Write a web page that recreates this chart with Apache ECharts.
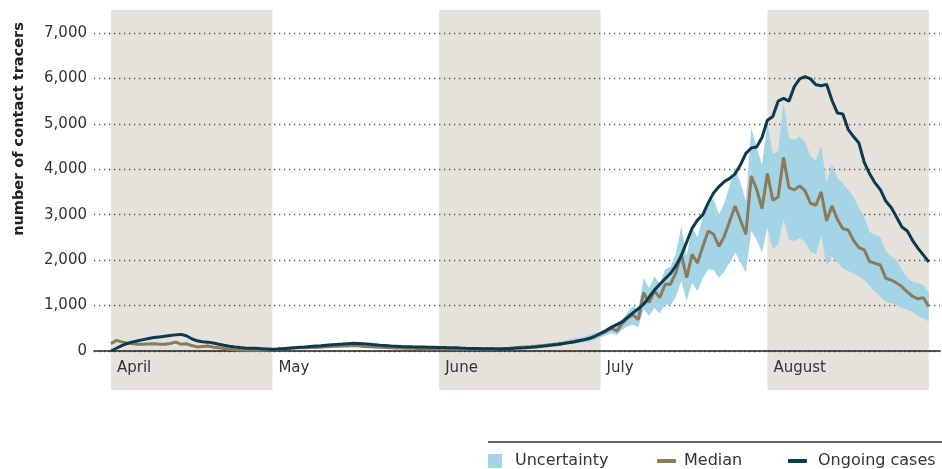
<!DOCTYPE html>
<html><head><meta charset="utf-8">
<script src="https://cdn.jsdelivr.net/npm/echarts@6/dist/echarts.min.js"></script>
<style>html,body{margin:0;padding:0;background:#fff}#chart{width:942px;height:469px}</style>
</head><body><div id="chart"></div>
<script>
// Day index 0 = 1 April ... 152 = 31 August
const monthNames = ['April', 'May', 'June', 'July', 'August'];
const monthStartDays = [0, 30, 61, 91, 122];
const shadedMonths = [[0, 30], [61, 91], [122, 152]];

const ongoing = [
  0, 60, 120, 165, 200, 225, 250, 275, 295, 310, 325,
  340, 355, 365, 335, 270, 225, 205, 195, 175, 150,
  125, 105, 88, 75, 68, 62, 58, 52, 45, 38,
  42, 52, 62, 72, 81, 90, 100, 110, 118, 128,
  138, 145, 152, 162, 169, 165, 157, 148, 138, 128,
  120, 112, 106, 100, 96, 91, 88, 86, 83, 81,
  79, 76, 73, 69, 64, 60, 57, 54, 51, 49,
  47, 45, 48, 52, 58, 65, 72, 80, 90, 102,
  115, 130, 145, 162, 180, 200, 225, 250, 280, 330,
  390, 450, 520, 580, 640, 740, 840, 930, 1030, 1180,
  1340, 1470, 1590, 1710, 1880, 2100, 2400, 2700, 2880, 3000,
  3260, 3480, 3620, 3730, 3800, 3900, 4100, 4350, 4470, 4490,
  4700, 5080, 5160, 5500, 5560, 5500, 5820, 5990, 6040, 5990,
  5860, 5840, 5870, 5520, 5240, 5220, 4880, 4720, 4580, 4150,
  3900, 3700, 3550, 3300, 3160, 2950, 2730, 2640, 2430, 2260,
  2110, 1960
];
const median = [
  160, 235, 200, 170, 160, 150, 148, 155, 160, 150, 150,
  165, 195, 150, 160, 120, 90, 100, 110, 85, 70,
  55, 40, 30, 22, 18, 15, 15, 18, 22, 28,
  40, 50, 60, 65, 70, 72, 75, 78, 85, 92,
  100, 105, 108, 110, 120, 115, 100, 95, 90, 80,
  75, 72, 68, 65, 60, 58, 55, 52, 50, 50,
  50, 50, 48, 46, 45, 44, 42, 42, 42, 42,
  44, 48, 55, 62, 70, 80, 88, 95, 105, 115,
  128, 140, 155, 172, 190, 210, 230, 245, 280, 320,
  370, 430, 500, 440, 600, 720, 800, 690, 1285, 1065,
  1322, 1175, 1468, 1470, 1725, 2129, 1615, 2130, 1935, 2300,
  2640, 2570, 2300, 2530, 2860, 3190, 2880, 2570, 3850, 3560,
  3135, 3906, 3319, 3392, 4258, 3598, 3546, 3634, 3524, 3252,
  3208, 3502, 2863, 3194, 2900, 2694, 2665, 2437, 2276, 2225,
  1968, 1931, 1894, 1601, 1564, 1500, 1417, 1300, 1200, 1150,
  1170, 980
];
const upper = [
  185, 260, 225, 195, 185, 175, 173, 180, 185, 175, 175,
  190, 220, 175, 185, 145, 115, 125, 135, 110, 95,
  78, 62, 50, 40, 35, 30, 30, 33, 37, 43,
  55, 65, 75, 80, 85, 87, 90, 93, 100, 107,
  115, 120, 123, 125, 135, 130, 115, 110, 105, 95,
  90, 87, 83, 80, 75, 73, 70, 67, 65, 65,
  70, 70, 68, 66, 65, 64, 62, 62, 62, 63,
  66, 72, 80, 88, 97, 108, 118, 128, 140, 152,
  168, 184, 202, 222, 245, 270, 295, 315, 355, 400,
  420, 490, 580, 610, 700, 850, 990, 900, 1615, 1380,
  1640, 1480, 1800, 1850, 2150, 2740, 2100, 2720, 2500, 2950,
  3300, 3340, 3010, 3250, 3650, 4040, 3700, 3300, 4900, 4500,
  4100, 5030, 4330, 4400, 5470, 4680, 4650, 4720, 4600, 4300,
  4185, 4530, 3693, 4111, 3800, 3690, 3550, 3400, 3150, 2950,
  2620, 2560, 2510, 2200, 2080, 2000, 1790, 1600, 1527, 1500,
  1450, 1270
];
const lower = [
  135, 210, 175, 145, 135, 125, 123, 130, 135, 125, 125,
  140, 170, 125, 135, 95, 65, 75, 85, 60, 47,
  35, 22, 15, 8, 6, 5, 5, 7, 10, 15,
  27, 36, 46, 51, 56, 58, 61, 64, 71, 78,
  86, 91, 94, 96, 106, 101, 86, 81, 76, 66,
  61, 58, 54, 51, 46, 44, 41, 38, 36, 36,
  35, 35, 33, 32, 31, 30, 29, 29, 29, 29,
  31, 34, 40, 45, 52, 60, 66, 72, 80, 88,
  98, 108, 120, 133, 148, 163, 178, 190, 215, 245,
  300, 340, 390, 350, 460, 540, 580, 520, 925, 770,
  950, 820, 1030, 1000, 1200, 1540, 1100, 1500, 1320, 1600,
  1800, 1780, 1615, 1750, 1950, 2170, 1950, 1725, 2640, 2450,
  2170, 2720, 2240, 2350, 2900, 2460, 2420, 2480, 2400, 2180,
  2130, 2530, 1870, 2092, 1950, 1820, 1760, 1711, 1640, 1564,
  1430, 1307, 1200, 1080, 1050, 1013, 950, 900, 866, 770,
  720, 646
];

const pairs = arr => arr.map((v, i) => [i, v]);
const bandData = upper.map((u, i) => [i, lower[i], u]);

const FONT = 'DejaVu Sans';
const C_BAND = '#a3d5e7';
const C_MED = '#8c7a5b';
const C_ONG = '#0d3a4e';
const C_MONTH = '#e5e1db';
const X_MIN = -3.16, X_MAX = 154.08;

const chart = echarts.init(document.getElementById('chart'), null, {renderer: 'canvas'});
chart.setOption({
  animation: false,
  backgroundColor: '#ffffff',
  grid: [
    {left: 94, right: 2, top: 33, bottom: 118},
    {left: 94, right: 2, top: 10, bottom: 79}
  ],
  xAxis: [
    {
      gridIndex: 0, type: 'value', min: X_MIN, max: X_MAX,
      axisLine: {show: true, onZero: true, lineStyle: {color: '#222', width: 1.5}},
      axisTick: {show: false},
      splitLine: {show: false},
      axisLabel: {
        customValues: monthStartDays,
        formatter: v => monthNames[monthStartDays.indexOf(Math.round(v))] || '',
        align: 'left', padding: [0, 0, 0, 6], margin: 10,
        color: '#333', fontFamily: FONT, fontSize: 15
      }
    },
    {gridIndex: 1, type: 'value', min: X_MIN, max: X_MAX, show: false}
  ],
  yAxis: [
    {
      gridIndex: 0, type: 'value', min: 0, max: 7000, interval: 1000,
      axisLine: {show: false}, axisTick: {show: false},
      axisLabel: {margin: 7, color: '#333', fontFamily: FONT, fontSize: 15,
        formatter: v => v.toLocaleString('en-US')},
      splitLine: {show: true, lineStyle: {color: '#555', width: 1.3, type: [1.3, 3.7]}}
    },
    {gridIndex: 1, type: 'value', min: 0, max: 1, show: false}
  ],
  legend: [
    {data: [{name: 'Uncertainty', icon: 'rect', itemStyle: {color: C_BAND, borderWidth: 0}}],
      left: 488, top: 453, padding: 0, itemWidth: 14, itemHeight: 14, selectedMode: false,
      textStyle: {fontFamily: FONT, fontSize: 16, color: '#333', padding: [0, 0, 0, 8]}},
    {data: [{name: 'Median', icon: 'roundRect', itemStyle: {color: C_MED, borderWidth: 0}}],
      left: 657, top: 453, padding: 0, itemWidth: 19, itemHeight: 4, selectedMode: false,
      textStyle: {fontFamily: FONT, fontSize: 16, color: '#333', padding: [0, 0, 0, 3]}},
    {data: [{name: 'Ongoing cases', icon: 'roundRect', itemStyle: {color: C_ONG, borderWidth: 0}}],
      left: 788, top: 453, padding: 0, itemWidth: 19, itemHeight: 4, selectedMode: false,
      textStyle: {fontFamily: FONT, fontSize: 16, color: '#333', padding: [0, 0, 0, 6]}}
  ],
  graphic: [
    {type: 'line', shape: {x1: 488, y1: 442, x2: 942, y2: 442}, style: {stroke: '#333', lineWidth: 1.5}},
    {type: 'text', x: 19, y: 129, rotation: Math.PI / 2,
      style: {text: 'number of contact tracers', font: 'bold 14.5px "DejaVu Sans"', fill: '#222',
        align: 'center', verticalAlign: 'middle'}}
  ],
  series: [
    {
      type: 'custom', name: 'months', xAxisIndex: 1, yAxisIndex: 1, z: -1, silent: true,
      data: shadedMonths,
      renderItem: (params, api) => {
        const a = api.coord([api.value(0), 1]);
        const b = api.coord([api.value(1), 0]);
        return {type: 'rect', shape: {x: a[0], y: a[1], width: b[0] - a[0], height: b[1] - a[1]},
          style: {fill: C_MONTH}};
      }
    },
    {
      type: 'custom', name: 'Uncertainty', xAxisIndex: 0, yAxisIndex: 0, z: 2, silent: true,
      data: bandData, encode: {x: 0, y: [1, 2]},
      itemStyle: {color: C_BAND},
      renderItem: (params, api) => {
        if (params.dataIndexInside !== 0) return null;
        const n = params.dataInsideLength;
        const top = [], bot = [];
        for (let j = 0; j < n; j++) {
          top.push(api.coord([api.value(0, j), api.value(2, j)]));
          bot.push(api.coord([api.value(0, j), api.value(1, j)]));
        }
        return {type: 'polygon', shape: {points: top.concat(bot.reverse())},
          style: {fill: C_BAND, stroke: null}};
      }
    },
    {
      type: 'line', name: 'Median', data: pairs(median), symbol: 'none',
      lineStyle: {color: C_MED, width: 3}, itemStyle: {color: C_MED}, z: 3
    },
    {
      type: 'line', name: 'Ongoing cases', data: pairs(ongoing), symbol: 'none',
      lineStyle: {color: C_ONG, width: 3}, itemStyle: {color: C_ONG}, z: 4
    }
  ]
});
</script>
</body></html>
